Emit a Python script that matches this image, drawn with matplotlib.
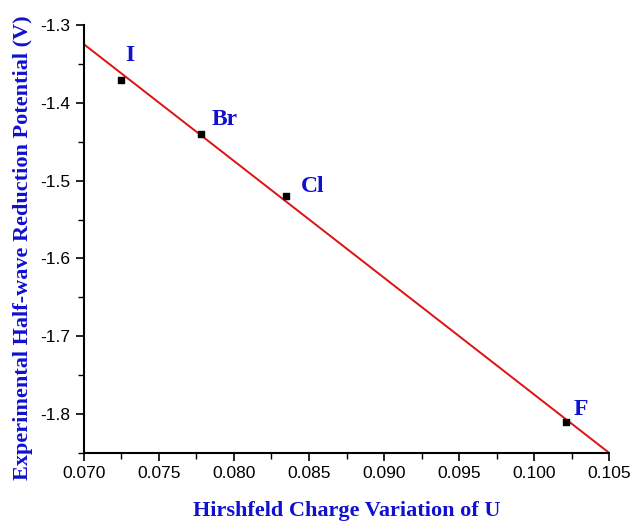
import numpy as np
import matplotlib.pyplot as plt
from matplotlib.ticker import MultipleLocator

# data
labels = ['I', 'Br', 'Cl', 'F']
charge = [0.0725, 0.0778, 0.0835, 0.1021]
potential = [-1.37, -1.44, -1.52, -1.81]

# linear fit drawn across the whole x range
fit_x = [0.070, 0.105]
fit_y = [-1.3245, -1.85]

blue = '#1010d0'

fig = plt.figure(figsize=(6.3, 5.23), dpi=100)
ax = fig.add_axes([0.133, 0.134, 0.834, 0.818])

ax.plot(fit_x, fit_y, color='#e01010', lw=1.4)
ax.scatter(charge, potential, marker='s', s=24, color='black', zorder=3)

# label offsets in pixels (right, up) from each point
offsets = [(4, 19), (11, 9), (14, 4), (8, 7)]
for lab, x, y, (dx, dy) in zip(labels, charge, potential, offsets):
    ax.annotate(lab, (x, y), xytext=(dx * 0.72, dy * 0.72),
                textcoords='offset points', color=blue,
                family='Liberation Serif', fontweight='bold', fontsize=17,
                ha='left', va='baseline')

ax.set_xlim(0.070, 0.105)
ax.set_ylim(-1.85, -1.3)
ax.xaxis.set_major_locator(MultipleLocator(0.005))
ax.xaxis.set_minor_locator(MultipleLocator(0.0025))
ax.yaxis.set_major_locator(MultipleLocator(0.1))
ax.yaxis.set_minor_locator(MultipleLocator(0.05))
ax.set_xticklabels([f'{v:.3f}' for v in ax.get_xticks()])
ax.set_yticklabels([f'{v:.1f}' for v in ax.get_yticks()])

for side in ['top', 'right']:
    ax.spines[side].set_visible(False)
for side in ['left', 'bottom']:
    ax.spines[side].set_linewidth(1.5)

ax.tick_params(which='major', direction='out', length=6, width=1.2,
               labelsize=12.5, labelfontfamily='Liberation Sans')
ax.tick_params(which='minor', direction='out', length=4, width=1.0)

ax.set_xlabel('Hirshfeld Charge Variation of U', color=blue,
              family='Liberation Serif', fontweight='bold', fontsize=16,
              labelpad=14)
ax.set_ylabel('Experimental Half-wave Reduction Potential (V)', color=blue,
              family='Liberation Serif', fontweight='bold', fontsize=16)
ax.yaxis.set_label_coords(-0.097, 0.479)

fig.savefig('out.png', dpi=100)
